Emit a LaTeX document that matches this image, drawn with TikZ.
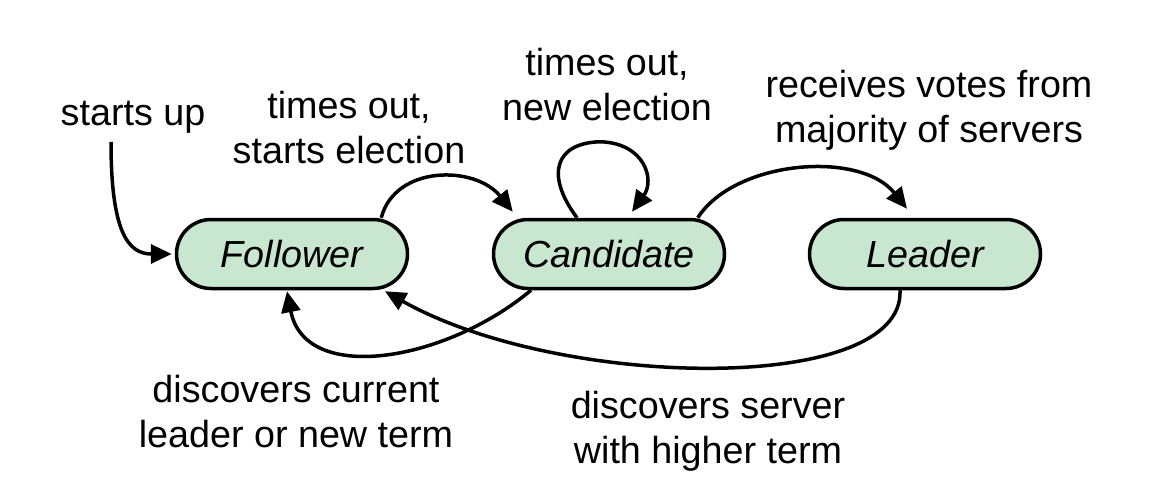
\documentclass[tikz,border=0pt]{standalone}
\usepackage{fontspec}
\setmainfont{Liberation Sans}
\usetikzlibrary{arrows.meta}
\definecolor{statefill}{HTML}{C8E6D0}
\begin{document}
\begin{tikzpicture}[x=1pt,y=-1pt,
  state/.style={draw=black,line width=3.5pt,fill=statefill,rectangle,rounded corners=34.5pt,
    minimum width=231pt,minimum height=69pt,inner sep=0pt,font=\itshape},
  lbl/.style={inner sep=0pt,anchor=base},
  trans/.style={line width=3.5pt,-{Triangle[length=21pt,width=19pt]}}]
\fontsize{37.7}{45}\selectfont
\useasboundingbox (0,0) rectangle (1172,492);
\node[state] (F) at (292,254) {Follower};
\node[state] (C) at (609,254) {Candidate};
\node[state] (L) at (925,254) {Leader};

\node[lbl] (tstart) at (133,125) {starts up};
\node[lbl] (tto) at (349,119) {\begin{tabular}[t]{@{}c@{}}times out,\\starts election\end{tabular}};
\node[lbl] (tne) at (607,76) {\begin{tabular}[t]{@{}c@{}}times out,\\new election\end{tabular}};
\node[lbl] (trv) at (929,98) {\begin{tabular}[t]{@{}c@{}}receives votes from\\majority of servers\end{tabular}};
\node[lbl] (tdc) at (296,402) {\begin{tabular}[t]{@{}c@{}}discovers current\\leader or new term\end{tabular}};
\node[lbl] (tds) at (708,418) {\begin{tabular}[t]{@{}c@{}}discovers server\\with higher term\end{tabular}};

\coordinate (S) at (111,142);
\draw[trans] (S) .. controls (111,232) and (128,254) .. ([xshift=-3pt]F.west);
\draw[trans] ([xshift=-28pt]F.north east) .. controls (395,165) and (475,165) .. ([xshift=21pt,yshift=6pt]C.north west);
\draw[trans] ([xshift=-32pt]C.north) .. controls (545,175) and (555,143) .. ([xshift=-9pt,yshift=76pt]C.north)
   .. controls (645,143) and (655,180) .. ([xshift=23pt,yshift=6pt]C.north);
\draw[trans] ([xshift=-28.5pt]C.north east) .. controls (735,160) and (860,150) .. ([xshift=-18pt,yshift=9pt]L.north);
\draw[trans] ([xshift=-78pt]C.south) .. controls (445,362) and (305,385) .. ([xshift=-5pt,yshift=-1pt]F.south);
\draw[trans] ([xshift=-25pt]L.south) .. controls (905,395) and (560,390) .. ([xshift=93pt,yshift=-1pt]F.south);
\end{tikzpicture}
\end{document}
